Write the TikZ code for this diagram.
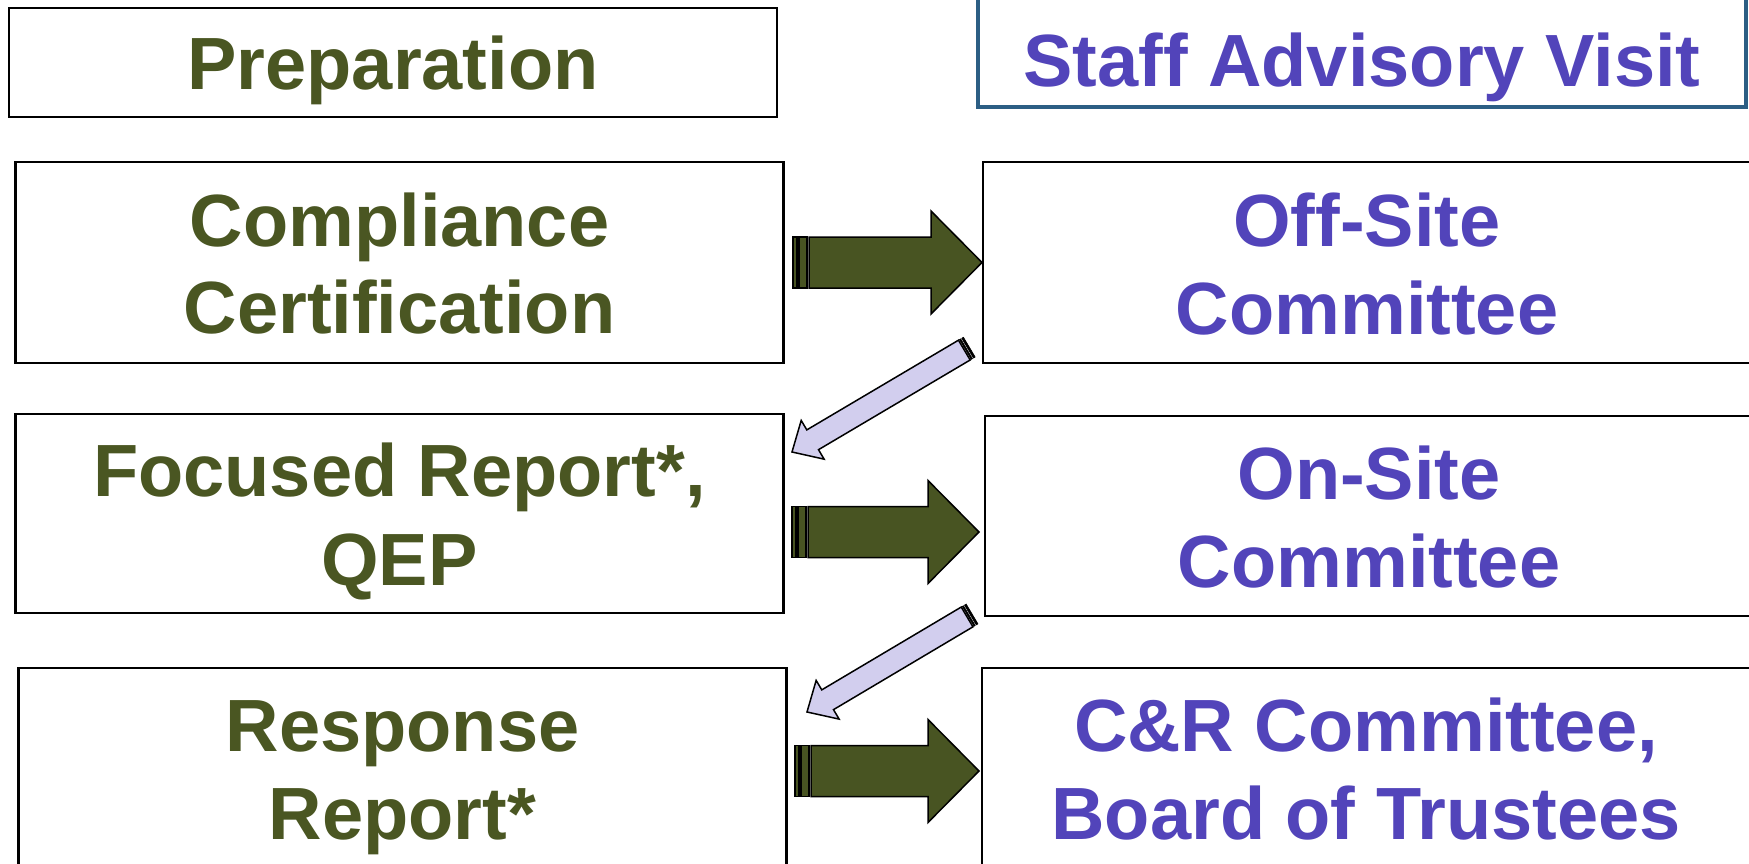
\documentclass[tikz,border=0pt]{standalone}
\usepackage{fontspec}
\setmainfont{Liberation Sans}
\usetikzlibrary{calc}
\definecolor{olivetxt}{RGB}{74,86,34}
\definecolor{purptxt}{RGB}{82,68,186}
\definecolor{lavfill}{RGB}{210,206,238}
\definecolor{staffblue}{RGB}{44,94,132}
\definecolor{arrowgreen}{RGB}{72,84,34}
\tikzset{
  box/.style={draw=black, line width=2.7pt, fill=white, inner sep=0pt, minimum width=768pt},
  bigfont/.style={font=\bfseries\fontsize{74}{87}\selectfont},
  gtxt/.style={bigfont, text=olivetxt, anchor=base, inner sep=0pt},
  ptxt/.style={bigfont, text=purptxt, anchor=base, inner sep=0pt},
  garrow/.style={fill=arrowgreen, draw=black, line width=1.5pt, line join=miter},
  larrow/.style={fill=lavfill, draw=black, line width=1.5pt, line join=miter},
  lstripe/.style={fill=black, draw=black, line width=0.6pt},
}
% green striped block arrow: #1 start coordinate, #2 total length
\newcommand{\greenblock}[2]{%
  \begin{scope}[shift={(#1)}]
    \filldraw[garrow] (0,-25.5) rectangle (4,25.5);
    \filldraw[garrow] (6,-25.5) rectangle (14,25.5);
    \filldraw[garrow] (16,-25.5) -- ({#2-51},-25.5) -- ({#2-51},-51.5) -- (#2,0)
      -- ({#2-51},51.5) -- ({#2-51},25.5) -- (16,25.5) -- cycle;
  \end{scope}}
% lavender striped block arrow: #1 tip coordinate, #2 length, #3 angle
\newcommand{\lavblock}[3]{%
  \begin{scope}[shift={(#1)}, rotate=#3]
    \filldraw[lstripe] (-#2,-11.5) rectangle ({-#2+2},11.5);
    \filldraw[lstripe] ({-#2+3.2},-11.5) rectangle ({-#2+4.6},11.5);
    \filldraw[larrow] ({-#2+5.8},-11.5) -- (-24,-11.5) -- (-24,-22.5) -- (0,0)
      -- (-24,22.5) -- (-24,11.5) -- ({-#2+5.8},11.5) -- cycle;
  \end{scope}}
\begin{document}
\begin{tikzpicture}[x=1pt, y=-1pt]
\useasboundingbox (0,0) rectangle (1749,864);
\clip (0,0) rectangle (1749,864);
\fill[white] (0,0) rectangle (1749,864);

% boxes
\node[box, minimum height=109pt] (prep) at (393,62.5) {};
\node[box, draw=staffblue, line width=3.5pt, minimum height=127pt] (staff) at (1362,43.5) {};
\node[box, minimum height=201pt] (comp) at (399.5,262.5) {};
\node[box, minimum height=201pt] (offsite) at (1367,262.5) {};
\node[box, minimum height=199pt] (focus) at (399.5,513.5) {};
\node[box, minimum height=200pt] (onsite) at (1369,516) {};
\node[box, minimum height=204pt] (resp) at (402.5,770) {};
\node[box, minimum height=204pt] (cr) at (1366,770) {};

% texts
\node[gtxt] (tprep) at (393,90) {Preparation};
\node[ptxt] (tstaff) at (1362,87) {Staff Advisory Visit};
\node[gtxt] (tcomp1) at (399.5,246) {Compliance};
\node[gtxt] (tcomp2) at (399.5,333) {Certification};
\node[ptxt] (toff1) at (1367,246) {Off-Site};
\node[ptxt] (toff2) at (1367,334) {Committee};
\node[gtxt] (tfoc1) at (399.5,496) {Focused Report*,};
\node[gtxt] (tfoc2) at (399.5,585) {QEP};
\node[ptxt] (ton1) at (1369,499) {On-Site};
\node[ptxt] (ton2) at (1369,587) {Committee};
\node[gtxt] (tres1) at (402.5,751) {Response};
\node[gtxt] (tres2) at (402.5,839) {Report*};
\node[ptxt] (tcr1) at (1366,751) {C\&R Committee,};
\node[ptxt] (tcr2) at (1366,839) {Board of Trustees};

% arrow anchor coordinates
\coordinate (g1) at (793,262.5);
\coordinate (g2) at (792,532);
\coordinate (g3) at (795,771);
\coordinate (l1) at (792,452);
\coordinate (l2) at (807,712);

% green arrows
\greenblock{g1}{189}
\greenblock{g2}{187}
\greenblock{g3}{184}

% lavender arrows
\lavblock{l1}{206}{210.6}
\lavblock{l2}{192}{210.7}
\end{tikzpicture}
\end{document}
